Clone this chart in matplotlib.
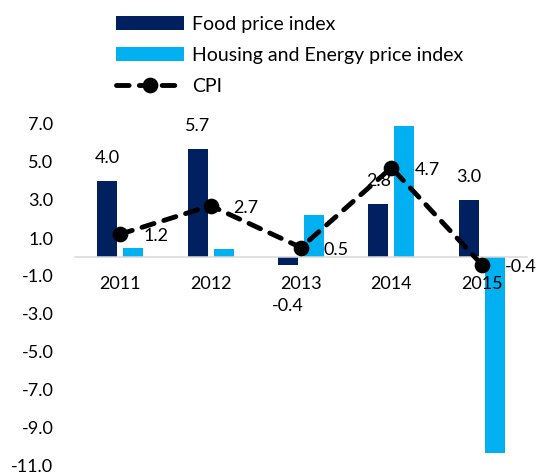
import matplotlib
matplotlib.use("Agg")
import matplotlib.pyplot as plt
import numpy as np

plt.rcParams['font.family'] = ['Lato', 'DejaVu Sans']

years = ['2011', '2012', '2013', '2014', '2015']
food = [4.0, 5.7, -0.4, 2.8, 3.0]
housing = [0.5, 0.4, 2.2, 6.9, -10.3]
cpi = [1.2, 2.7, 0.5, 4.7, -0.4]

navy = '#002060'
sky = '#00B0F0'

fig = plt.figure(figsize=(5.41, 4.76), dpi=100)
ax = fig.add_axes([75 / 541, 10 / 476, 452 / 541, 342 / 476])

x = np.arange(len(years))
off = 0.144
w = 0.221
b1 = ax.bar(x - off, food, w, color=navy, label='Food price index', zorder=1)
b2 = ax.bar(x + off, housing, w, color=sky, label='Housing and Energy price index', zorder=1)
ln, = ax.plot(x, cpi, color='black', lw=3.5, linestyle=(0, (2.6, 2.1)), dash_capstyle='round',
              marker='o', markersize=10.3, label='CPI', zorder=4)

# data labels
for xi, v in zip(x, food):
    dy = 16.5 if v >= 0 else -29.5
    ax.annotate(f'{v:.1f}', (xi - off, v), xytext=(0, dy), textcoords='offset points',
                ha='center', va='center', fontsize=13, zorder=3)
for xi, v in zip(x, cpi):
    ax.annotate(f'{v:.1f}', (xi, v), xytext=(16.5, -1.5), textcoords='offset points',
                ha='left', va='center', fontsize=13, zorder=3)

ax.set_xlim(-0.5, 4.5)
ax.set_ylim(-11, 7)
ax.set_yticks(np.arange(-11, 8, 2))
ax.set_yticklabels([f'{t:.1f}' for t in np.arange(-11, 8, 2)])
ax.set_xticks(x)
ax.set_xticklabels(years)
ax.tick_params(axis='y', length=0, pad=15.5, labelsize=13)
ax.tick_params(axis='x', length=0, pad=13.5, labelsize=13)

for s in ['top', 'right', 'left']:
    ax.spines[s].set_visible(False)
ax.spines['bottom'].set_position(('data', 0))
ax.spines['bottom'].set_color('#D9D9D9')
ax.spines['bottom'].set_linewidth(1.1)

fig.legend([b1, b2, ln], ['Food price index', 'Housing and Energy price index', 'CPI'],
           loc='upper left', bbox_to_anchor=(116 / 541, 1 - 16 / 476),
           frameon=False, fontsize=14, handlelength=3.5, handletextpad=0.4,
           labelspacing=0.72, borderpad=0, borderaxespad=0, numpoints=1)

fig.savefig('out.png', dpi=100)
